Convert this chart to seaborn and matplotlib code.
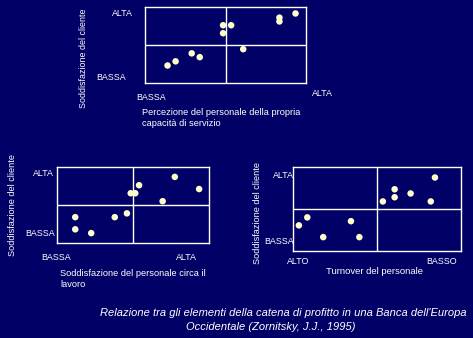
import matplotlib
matplotlib.use("Agg")
import matplotlib.pyplot as plt
import seaborn as sns
import pandas as pd

# Relazione tra gli elementi della catena di profitto (Zornitsky, 1995)

bg = "#000066"
dot = "#FFFFCC"

# panel 1: percezione del personale vs soddisfazione del cliente
percezione_x = [1.4, 1.9, 2.9, 3.4, 4.85, 4.85, 5.35, 6.1, 8.35, 8.35, 9.35]
percezione_y = [2.3, 2.85, 3.9, 3.4, 7.6, 6.55, 7.6, 4.45, 8.6, 8.1, 9.15]

# panel 2: soddisfazione del personale vs soddisfazione del cliente
lavoro_x = [1.2, 1.2, 2.25, 3.8, 4.6, 4.85, 5.15, 5.4, 6.95, 7.75, 9.35]
lavoro_y = [3.4, 1.8, 1.3, 3.4, 3.9, 6.55, 6.55, 7.6, 5.5, 8.7, 7.1]

# panel 3: turnover del personale vs soddisfazione del cliente
turnover_x = [0.35, 0.85, 1.8, 3.45, 3.95, 5.35, 6.05, 6.05, 7.0, 8.2, 8.45]
turnover_y = [3.05, 4.0, 1.65, 3.55, 1.65, 5.9, 7.35, 6.4, 6.85, 5.9, 8.75]

sns.set_style("dark")
plt.rcParams["font.family"] = ["Liberation Sans", "DejaVu Sans"]

W, H = 473, 338
fig = plt.figure(figsize=(W / 100, H / 100), dpi=100, facecolor=bg)
fs = 6.4


def px_axes(x0, y0, x1, y1):
    return fig.add_axes([x0 / W, 1 - y1 / H, (x1 - x0) / W, (y1 - y0) / H])


def quadrant(ax, xs, ys):
    df = pd.DataFrame({"x": xs, "y": ys})
    sns.scatterplot(data=df, x="x", y="y", ax=ax, color=dot, s=22,
                    edgecolor="none", zorder=3)
    ax.set_xlim(0, 10)
    ax.set_ylim(0, 10)
    ax.set_facecolor(bg)
    ax.grid(False)
    ax.axvline(5, color="white", lw=1)
    ax.axhline(5, color="white", lw=1)
    for s in ax.spines.values():
        s.set_visible(True)
        s.set_color("white")
        s.set_linewidth(1)
    ax.set_xticks([])
    ax.set_yticks([])
    ax.set_xlabel("")
    ax.set_ylabel("")


def txt(x, y, s, **kw):
    kw.setdefault("fontsize", fs)
    kw.setdefault("color", "white")
    fig.text(x / W, 1 - y / H, s, **kw)


# top panel
ax1 = px_axes(145, 7, 306, 83)
quadrant(ax1, percezione_x, percezione_y)
txt(122, 14, "ALTA", ha="center", va="center")
txt(111, 78, "BASSA", ha="center", va="center")
txt(83, 58, "Soddisfazione del cliente", rotation=90, ha="center", va="center")
txt(151, 98, "BASSA", ha="center", va="center")
txt(322, 94, "ALTA", ha="center", va="center")
txt(142, 118, "Percezione del personale della propria\ncapacità di servizio",
    ha="left", va="center", linespacing=1.4, fontsize=6.7)

# bottom left panel
ax2 = px_axes(57, 167, 209, 243)
quadrant(ax2, lavoro_x, lavoro_y)
txt(43, 174, "ALTA", ha="center", va="center")
txt(40, 233, "BASSA", ha="center", va="center")
txt(13, 205, "Soddisfazione del cliente", rotation=90, ha="center", va="center",
    fontsize=6.6)
txt(56, 258, "BASSA", ha="center", va="center")
txt(186, 258, "ALTA", ha="center", va="center")
txt(60, 279, "Soddisfazione del personale circa il\nlavoro", ha="left",
    va="center", linespacing=1.4, fontsize=6.7)

# bottom right panel
ax3 = px_axes(293, 167, 461, 251)
quadrant(ax3, turnover_x, turnover_y)
txt(283, 175, "ALTA", ha="center", va="center")
txt(279, 241, "BASSA", ha="center", va="center")
txt(257, 213, "Soddisfazione del cliente", rotation=90, ha="center", va="center",
    fontsize=6.6)
txt(298, 262, "ALTO", ha="center", va="center")
txt(442, 262, "BASSO", ha="center", va="center")
txt(374, 272, "Turnover del personale", ha="center", va="center", fontsize=6.8)

# caption, two lines
txt(283, 313, "Relazione tra gli elementi della catena di profitto in una Banca dell'Europa",
    ha="center", va="center", style="italic", fontsize=8.0)
txt(271, 327, "Occidentale (Zornitsky, J.J., 1995)",
    ha="center", va="center", style="italic", fontsize=8.0)

fig.savefig("out.png", dpi=100, facecolor=bg)
